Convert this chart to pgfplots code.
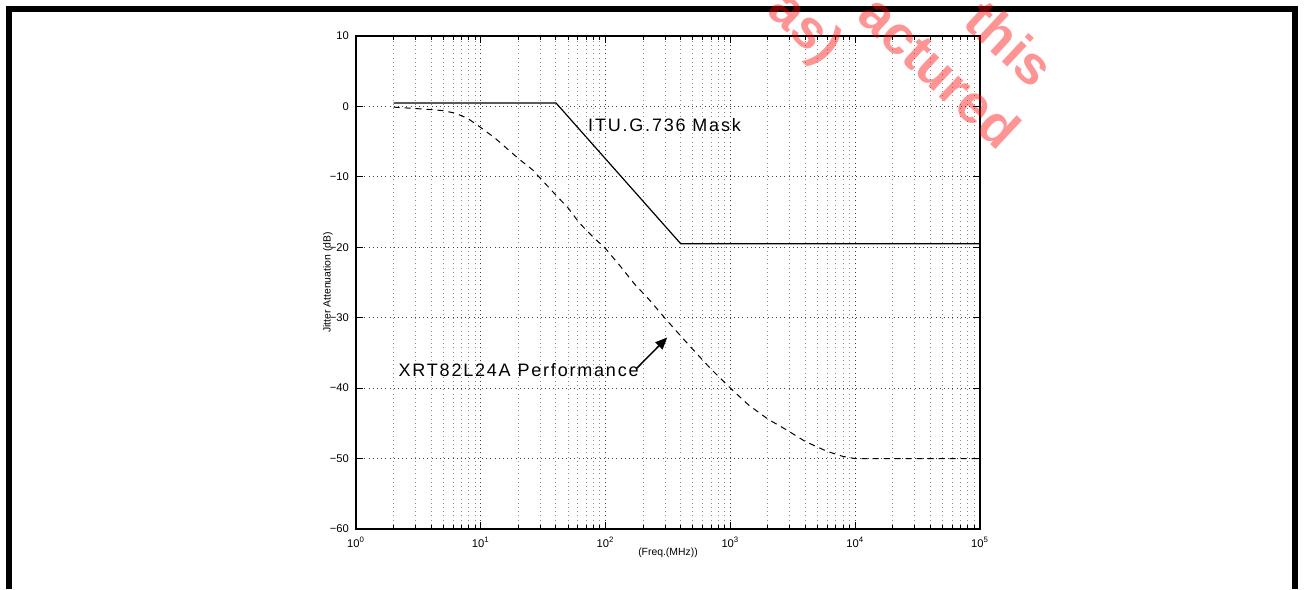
\documentclass[border=0pt]{standalone}
\usepackage{fontspec}
\setmainfont{Liberation Sans}
\newfontfamily\spaced{Liberation Sans}[LetterSpace=10]
\usepackage{pgfplots}
\pgfplotsset{compat=1.18}
\usetikzlibrary{arrows.meta}

% ITU mask and measured jitter transfer
\pgfplotstableread{
f    db
2    0.5
40   0.5
400  -19.5
100000 -19.5
}\maskdata
\pgfplotstableread{
f    db
2    -0.1
3    -0.3
4    -0.45
5    -0.6
6    -0.9
7    -1.3
8    -1.8
10   -3.0
13   -4.5
16   -5.9
20   -7.4
26   -9.0
30   -10.2
40   -12.6
50   -14.4
62   -16.6
80   -18.6
100  -20.2
130  -22.6
172  -25.3
220  -27.3
300  -30.1
400  -32.6
500  -34.5
700  -37.3
1000 -40.0
1400 -42.4
2000 -44.4
2800 -45.9
4000 -47.6
6000 -49.0
8000 -49.7
10000 -50.0
100000 -50.0
}\perfdata

\newcommand{\mn}{\char"2212\relax}

\begin{document}
\begin{tikzpicture}
\useasboundingbox (0,0) rectangle (652pt,294.5pt);
\draw[line width=3pt,line join=miter] (4.5pt,0) -- (4.5pt,289.75pt) -- (647.5pt,289.75pt) -- (647.5pt,0);
\begin{axis}[
  at={(178pt,30pt)},anchor=south west,
  scale only axis,width=312pt,height=246.5pt,
  xmode=log,xmin=1,xmax=1e5,ymin=-60,ymax=10,
  xtick={1,10,100,1000,10000,100000},
  xticklabels={10\textsuperscript{0},10\textsuperscript{1},10\textsuperscript{2},10\textsuperscript{3},10\textsuperscript{4},10\textsuperscript{5}},
  ytick={-60,-50,...,10},
  yticklabels={\mn60,\mn50,\mn40,\mn30,\mn20,\mn10,0,10},
  ticklabel style={font=\fontsize{5.6}{6}\selectfont},
  xticklabel style={yshift=-0.5pt},
  tick align=inside,major tick length=3.5pt,minor tick length=2pt,
  tick style={black,line width=0.5pt},
  axis line style={line width=0.6pt},
  grid=both,
  major grid style={black!75,line width=0.5pt,dash pattern=on 0.5pt off 1.6pt},
  minor grid style={black!45,line width=0.5pt,dash pattern=on 0.5pt off 1.6pt},
  xlabel={(Freq.(MHz))},ylabel={Jitter Attenuation (dB)},
  every axis x label/.style={at={(axis description cs:0.5,0)},yshift=-12pt,anchor=center,font=\fontsize{5.2}{6}\selectfont},
  every axis y label/.style={at={(axis description cs:0,0.5)},xshift=-14pt,rotate=90,anchor=center,font=\fontsize{5.2}{6}\selectfont},
]
\addplot[black,line width=0.6pt] table[x=f,y=db]{\maskdata};
\addplot[black,line width=0.5pt,dash pattern=on 3pt off 2.5pt] table[x=f,y=db]{\perfdata};
\node[anchor=base west,inner sep=0pt,font=\fontsize{9}{10}\selectfont\spaced] at (axis cs:72,-3.5) {ITU.G.736 Mask};
\node[anchor=base west,inner sep=0pt,font=\fontsize{9}{10}\selectfont\spaced] at (axis cs:2.18,-38.4) {XRT82L24A Performance};
\draw[line width=0.75pt,-{Triangle[length=6pt,width=5pt]}] (axis cs:177,-37.2) -- (axis cs:312,-32.8);
\end{axis}
\begin{scope}[every node/.style={rotate=-43,text=red,text opacity=0.42,font=\fontsize{27}{27}\selectfont\bfseries}]
\node at (505pt,273pt) {this};
\node at (470pt,259pt) {actured};
\node at (402pt,280pt) {as)};
\end{scope}
\end{tikzpicture}
\end{document}
